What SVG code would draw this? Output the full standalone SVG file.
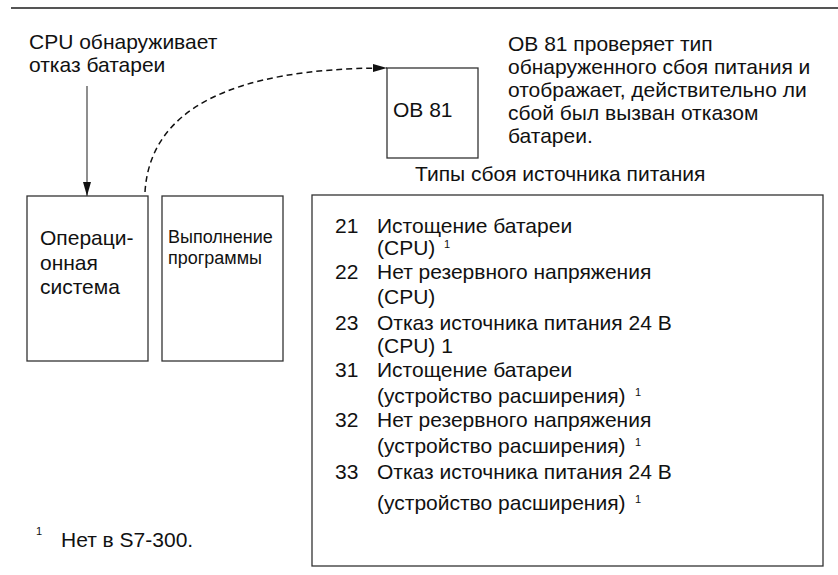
<svg xmlns="http://www.w3.org/2000/svg" width="838" height="575" viewBox="0 0 838 575">
<defs>
<style>
text{font-family:"Liberation Sans",Arial,sans-serif;fill:#111;font-size:21px}
.box{fill:#fff;stroke:#333;stroke-width:1.3}
.sm{font-size:18px}
.sup{font-size:11px}
</style>
<marker id="ah" markerWidth="14" markerHeight="8" refX="14" refY="4" orient="auto" markerUnits="userSpaceOnUse">
<path d="M0,0 L14,4 L0,8 Z" fill="#111"/>
</marker>
<marker id="ah2" markerWidth="14" markerHeight="8" refX="14" refY="4" orient="auto" markerUnits="userSpaceOnUse">
<path d="M0,0 L14,4 L0,8 Z" fill="#111"/>
</marker>
</defs>
<rect width="838" height="575" fill="#fff"/>
<line x1="11" y1="8" x2="838" y2="8" stroke="#555" stroke-width="2"/>

<g id="label-cpu">
<text x="29" y="49">CPU обнаруживает</text>
<text x="29" y="72">отказ батареи</text>
</g>

<g id="label-ob81">
<text x="508" y="51">OB 81 проверяет тип</text>
<text x="508" y="74">обнаруженного сбоя питания и</text>
<text x="508" y="97">отображает, действительно ли</text>
<text x="508" y="120">сбой был вызван отказом</text>
<text x="508" y="143">батареи.</text>
</g>

<g id="node-os">
<rect class="box" x="27" y="196" width="121" height="165"/>
<text x="40" y="245">Операци-</text>
<text x="40" y="270">онная</text>
<text x="40" y="294">система</text>
</g>

<g id="node-prog">
<rect class="box" x="162" y="196" width="121" height="165"/>
<text class="sm" x="168" y="243">Выполнение</text>
<text class="sm" x="168" y="264">программы</text>
</g>

<g id="node-ob81">
<rect class="box" x="387" y="68" width="91" height="90"/>
<text x="393" y="117">OB 81</text>
</g>

<g id="label-types">
<text x="415" y="181">Типы сбоя источника питания</text>
</g>

<g id="node-types">
<rect class="box" x="312" y="195" width="511" height="371"/>
<text x="335" y="233">21</text><text x="377" y="233">Истощение батареи</text>
<text x="377" y="255">(CPU)</text><text class="sup" x="444" y="248">1</text>
<text x="335" y="279">22</text><text x="377" y="279">Нет резервного напряжения</text>
<text x="377" y="304">(CPU)</text>
<text x="335" y="330">23</text><text x="377" y="330">Отказ источника питания 24 В</text>
<text x="377" y="353">(CPU) 1</text>
<text x="335" y="377">31</text><text x="377" y="377">Истощение батареи</text>
<text x="377" y="403">(устройство расширения)</text><text class="sup" x="635" y="396">1</text>
<text x="335" y="427">32</text><text x="377" y="427">Нет резервного напряжения</text>
<text x="377" y="453">(устройство расширения)</text><text class="sup" x="635" y="446">1</text>
<text x="335" y="479">33</text><text x="377" y="479">Отказ источника питания 24 В</text>
<text x="377" y="510">(устройство расширения)</text><text class="sup" x="635" y="503">1</text>
</g>

<g id="footnote">
<text class="sup" x="36" y="535">1</text>
<text x="61" y="547">Нет в S7-300.</text>
</g>

<g id="connectors">
<line x1="87" y1="86" x2="87" y2="196" stroke="#444" stroke-width="1.2" marker-end="url(#ah)"/>
<path d="M145,192 C150,110 230,68 387,68" fill="none" stroke="#111" stroke-width="1.5" stroke-dasharray="6,4" marker-end="url(#ah2)"/>
</g>
</svg>
